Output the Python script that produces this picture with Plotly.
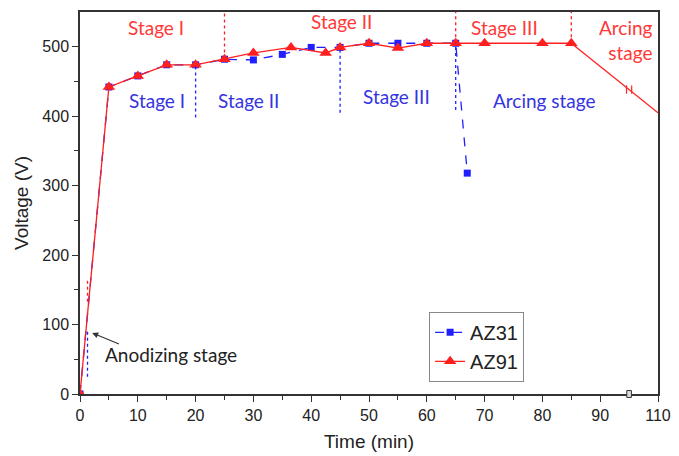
import plotly.graph_objects as go

# Time axis is broken between 95 and 105 min
BREAK_START = 95
BREAK_END = 105


def to_axis(t):
    """Map real time (min) onto the broken time axis."""
    return t if t <= BREAK_START else t - (BREAK_END - BREAK_START)


# AZ31 voltage-time response
az31_time = [0, 5, 10, 15, 20, 25, 30, 35, 40, 45, 50, 55, 60, 65, 67]
az31_voltage = [0, 442, 458, 474, 474, 482, 481, 489, 499, 499, 505, 505, 505, 505, 318]

# AZ91 voltage-time response (last point: end of the arcing-stage decay, unmarked)
az91_time = [0, 5, 10, 15, 20, 25, 30, 36.5, 42.5, 45, 50, 55, 60, 65, 70, 80, 85, 110]
az91_voltage = [0, 442, 458, 474, 474, 482, 491, 499, 491, 499, 505, 498, 505, 505, 505, 505, 505, 405]

# Stage boundaries: (time, lower voltage, upper voltage)
az31_bounds = [(1.3, 25, 93), (20, 398, 474), (45, 405, 499), (65, 409, 505)]
az91_bounds = [(1.3, 133, 167), (25, 483, 550), (65, 505, 550), (85, 505, 550)]

# Stage labels: (text, time, voltage)
az31_labels = [("Stage I", 13.3, 422), ("Stage II", 29.2, 422),
               ("Stage III", 54.7, 428), ("Arcing stage", 80.4, 422)]
az91_labels = [("Stage I", 13.1, 527), ("Stage II", 45.3, 536),
               ("Stage III", 73.5, 527)]

x_ticks = [0, 10, 20, 30, 40, 50, 60, 70, 80, 90, 110]
x_minor = [5, 15, 25, 35, 45, 55, 65, 75, 85]
y_ticks = [0, 100, 200, 300, 400, 500]
y_minor = [50, 150, 250, 350, 450]

RED = "#ff1f1f"
BLUE = "#1f1fff"
RED_TXT = "#ff3838"
BLUE_TXT = "#3434e0"
LABEL_FONT = "Lato, Carlito, Calibri, sans-serif"
AXIS_FONT = "Liberation Sans, Arial, sans-serif"

fig = go.Figure()

fig.add_trace(go.Scatter(
    x=[to_axis(t) for t in az31_time], y=az31_voltage,
    mode="lines+markers", name="AZ31",
    line=dict(color=BLUE, width=1.3, dash="dash"),
    marker=dict(symbol="square", size=7, color=BLUE),
))

# unmarked decay segment of AZ91 after the last measured point
fig.add_trace(go.Scatter(
    x=[to_axis(t) for t in az91_time[-2:]], y=az91_voltage[-2:],
    mode="lines", showlegend=False, hoverinfo="skip",
    line=dict(color=RED, width=1.3),
))
fig.add_trace(go.Scatter(
    x=[to_axis(t) for t in az91_time[:-1]], y=az91_voltage[:-1],
    mode="lines+markers", name="AZ91",
    line=dict(color=RED, width=1.3),
    marker=dict(symbol="triangle-up", size=11, color=RED),
))

shapes = []
for t, y0, y1 in az31_bounds:
    shapes.append(dict(type="line", xref="x", yref="y", x0=to_axis(t), x1=to_axis(t),
                       y0=y0, y1=y1, line=dict(color=BLUE, width=1.3, dash="dot")))
for t, y0, y1 in az91_bounds:
    shapes.append(dict(type="line", xref="x", yref="y", x0=to_axis(t), x1=to_axis(t),
                       y0=y0, y1=y1, line=dict(color=RED, width=1.3, dash="dot")))

# break marks on the AZ91 tail segment and on the time axis
xa, xb = to_axis(az91_time[-2]), to_axis(az91_time[-1])
ya, yb = az91_voltage[-2], az91_voltage[-1]
y_at_break = ya + (yb - ya) * (BREAK_START - xa) / (xb - xa)
for dx in (-0.45, 0.45):
    shapes.append(dict(type="line", xref="x", yref="y",
                       x0=BREAK_START + dx, x1=BREAK_START + dx,
                       y0=y_at_break - 6, y1=y_at_break + 6,
                       line=dict(color=RED, width=1.2)))
x_range = [0, to_axis(110)]
bx = BREAK_START / x_range[1]
shapes.append(dict(type="rect", xref="paper", yref="paper",
                   x0=bx - 0.004, x1=bx + 0.004, y0=-0.009, y1=0.009,
                   fillcolor="#ddd", line=dict(color="#333", width=1)))

annotations = []
for text, t, v in az31_labels:
    annotations.append(dict(x=to_axis(t), y=v, text=text, showarrow=False,
                            font=dict(family=LABEL_FONT, size=19, color=BLUE_TXT)))
for text, t, v in az91_labels:
    annotations.append(dict(x=to_axis(t), y=v, text=text, showarrow=False,
                            font=dict(family=LABEL_FONT, size=19, color=RED_TXT)))
annotations.append(dict(x=to_axis(109.5), y=510, text="Arcing<br>stage", showarrow=False,
                        xanchor="right", align="right",
                        font=dict(family=LABEL_FONT, size=19, color=RED_TXT)))
annotations.append(dict(x=15.7, y=57, text="Anodizing stage", showarrow=False,
                        font=dict(family=LABEL_FONT, size=19, color="#222")))
annotations.append(dict(x=2.1, y=88, ax=7, ay=71, axref="x", ayref="y", text="",
                        showarrow=True, arrowhead=2, arrowsize=1.1, arrowwidth=1.1,
                        arrowcolor="#333"))

axis_common = dict(
    showline=True, linecolor="#333", linewidth=1.5, mirror=True,
    ticks="outside", ticklen=6, tickwidth=1.2, tickcolor="#333",
    showgrid=False, zeroline=False, automargin=False,
    tickfont=dict(family=AXIS_FONT, size=16, color="#222"),
)

fig.update_layout(
    width=679, height=456,
    margin=dict(l=80, r=21, t=12, b=62),
    paper_bgcolor="white", plot_bgcolor="white",
    xaxis=dict(
        range=x_range,
        tickvals=[to_axis(t) for t in x_ticks],
        ticktext=[str(t) for t in x_ticks],
        minor=dict(tickvals=[to_axis(t) for t in x_minor], ticks="outside",
                   ticklen=4, tickcolor="#333", tickwidth=1.2),
        title=dict(text="Time (min)", standoff=12,
                   font=dict(family=AXIS_FONT, size=19, color="#222")),
        **axis_common,
    ),
    yaxis=dict(
        range=[0, 550],
        tickvals=y_ticks,
        minor=dict(tickvals=y_minor, ticks="outside",
                   ticklen=4, tickcolor="#333", tickwidth=1.2),
        title=dict(text="Voltage (V)", standoff=9,
                   font=dict(family=AXIS_FONT, size=19, color="#222")),
        **axis_common,
    ),
    legend=dict(
        x=0.604, y=0.215, xanchor="left", yanchor="top",
        bgcolor="white", bordercolor="#888", borderwidth=1,
        font=dict(family=AXIS_FONT, size=20, color="#222"),
        tracegroupgap=0,
    ),
    shapes=shapes,
    annotations=annotations,
)

fig.write_html("out.html")
